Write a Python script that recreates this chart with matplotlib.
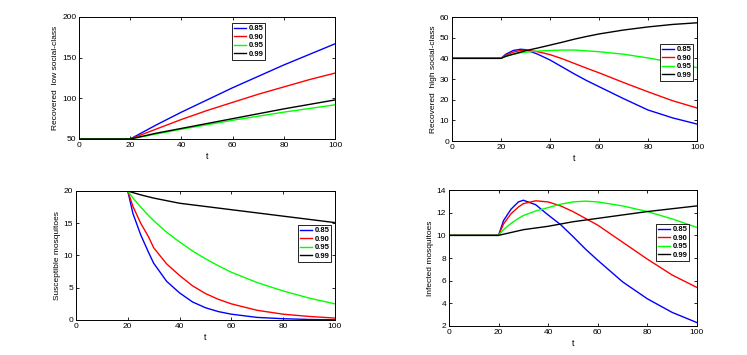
import matplotlib
matplotlib.use("Agg")
import matplotlib.pyplot as plt

plt.rcParams['font.family'] = ['Liberation Sans', 'DejaVu Sans']

labels = ["0.85", "0.90", "0.95", "0.99"]
colors = ["#0000ff", "#ff0000", "#00ff00", "#000000"]

# recovered low social-class
t_rl = [0, 20, 30, 40, 50, 60, 70, 80, 90, 100]
rl_085 = [50, 50, 67, 83, 98, 113, 127, 141, 154, 167]
rl_090 = [50, 50, 62, 74, 85, 95, 105, 114, 123, 131]
rl_095 = [50, 50, 56, 62, 67.5, 73, 78, 83, 87.5, 92]
rl_099 = [50, 50, 57, 63, 69, 75, 81, 87, 92.5, 98]

# recovered high social-class
t_c = [0, 20, 22, 25, 28, 30, 35, 40, 45, 50, 55, 60, 70, 80, 90, 100]
rh_085 = [40, 40, 42, 43.8, 44.4, 44.2, 42, 39.2, 35.8, 32.4, 29.2, 26.3, 20.5, 15, 11.2, 8.2]
rh_090 = [40, 40, 41.5, 43, 43.8, 44, 43.2, 41.8, 39.8, 37.5, 35.2, 33, 28.3, 23.8, 19.5, 16]
rh_095 = [40, 40, 41, 42, 42.7, 43, 43.5, 43.8, 44, 44, 43.6, 43.2, 42, 40.2, 38, 35.5]
rh_099 = [40, 40, 41, 42, 43, 43.7, 45, 46.4, 47.8, 49.3, 50.6, 51.8, 53.7, 55.2, 56.4, 57.2]

# susceptible mosquitoes
sm_085 = [20, 20, 16.5, 13.2, 10.5, 8.8, 6, 4.2, 2.8, 1.9, 1.3, 0.9, 0.4, 0.2, 0.08, 0.03]
sm_090 = [20, 20, 17.6, 15, 12.9, 11.2, 8.7, 6.9, 5.3, 4.1, 3.2, 2.5, 1.5, 0.9, 0.55, 0.3]
sm_095 = [20, 20, 18.9, 17.5, 16.2, 15.4, 13.6, 12.1, 10.7, 9.5, 8.4, 7.4, 5.8, 4.5, 3.4, 2.5]
sm_099 = [20, 20, 19.75, 19.4, 19.1, 18.9, 18.5, 18.1, 17.85, 17.6, 17.35, 17.1, 16.6, 16.1, 15.6, 15.1]

# infected mosquitoes
im_085 = [10, 10, 11.3, 12.3, 12.95, 13.1, 12.7, 11.8, 10.95, 9.9, 8.8, 7.8, 5.9, 4.4, 3.2, 2.3]
im_090 = [10, 10, 11, 11.9, 12.5, 12.8, 13.05, 12.95, 12.6, 12.1, 11.5, 10.9, 9.4, 7.9, 6.5, 5.4]
im_095 = [10, 10, 10.5, 11.05, 11.5, 11.75, 12.15, 12.45, 12.75, 12.95, 13.02, 12.95, 12.6, 12.1, 11.45, 10.7]
im_099 = [10, 10, 10.1, 10.25, 10.4, 10.5, 10.65, 10.8, 11.0, 11.2, 11.35, 11.5, 11.8, 12.1, 12.35, 12.6]

fig = plt.figure(figsize=(7.47, 3.55), dpi=100)

panels = [
    ([0.1058, 0.6085, 0.3427, 0.3437], t_rl, [rl_085, rl_090, rl_095, rl_099],
     "Recovered  low social-class", (50, 200), [50, 100, 150, 200], (0.598, 0.951)),
    ([0.6051, 0.6028, 0.3280, 0.3493], t_c, [rh_085, rh_090, rh_095, rh_099],
     "Recovered  high social-class", (0, 60), range(0, 61, 10), (0.849, 0.782)),
    ([0.1017, 0.0986, 0.3467, 0.3634], t_c, [sm_085, sm_090, sm_095, sm_099],
     "Susceptible mosquitoes", (0, 20), range(0, 21, 5), (0.857, 0.736)),
    ([0.6010, 0.0817, 0.3320, 0.3830], t_c, [im_085, im_090, im_095, im_099],
     "Infected mosquitoes", (2, 14), range(2, 15, 2), (0.835, 0.75)),
]

for rect, t, series, ylab, ylim, yticks, leg_pos in panels:
    ax = fig.add_axes(rect)
    for y, c, lab in zip(series, colors, labels):
        ax.plot(t, y, color=c, lw=1.0, label=lab)
    ax.set_xlim(0, 100)
    ax.set_ylim(*ylim)
    ax.set_xticks(range(0, 101, 20))
    ax.set_yticks(list(yticks))
    ax.tick_params(direction='in', top=True, right=True, labelsize=6,
                   length=2.5, width=0.6, pad=2)
    for s in ax.spines.values():
        s.set_linewidth(0.7)
    ax.set_xlabel("t", fontsize=6.5, labelpad=2)
    ax.set_ylabel(ylab, fontsize=6, labelpad=2)
    leg = ax.legend(loc='upper left', bbox_to_anchor=leg_pos, fontsize=5.5,
                    fancybox=False, framealpha=1, edgecolor='black',
                    handlelength=1.6, handletextpad=0.3, labelspacing=0.15,
                    borderpad=0.25, borderaxespad=0)
    leg.get_frame().set_linewidth(0.6)
    for txt in leg.get_texts():
        txt.set_fontweight('bold')

fig.savefig("out.png", dpi=100)
